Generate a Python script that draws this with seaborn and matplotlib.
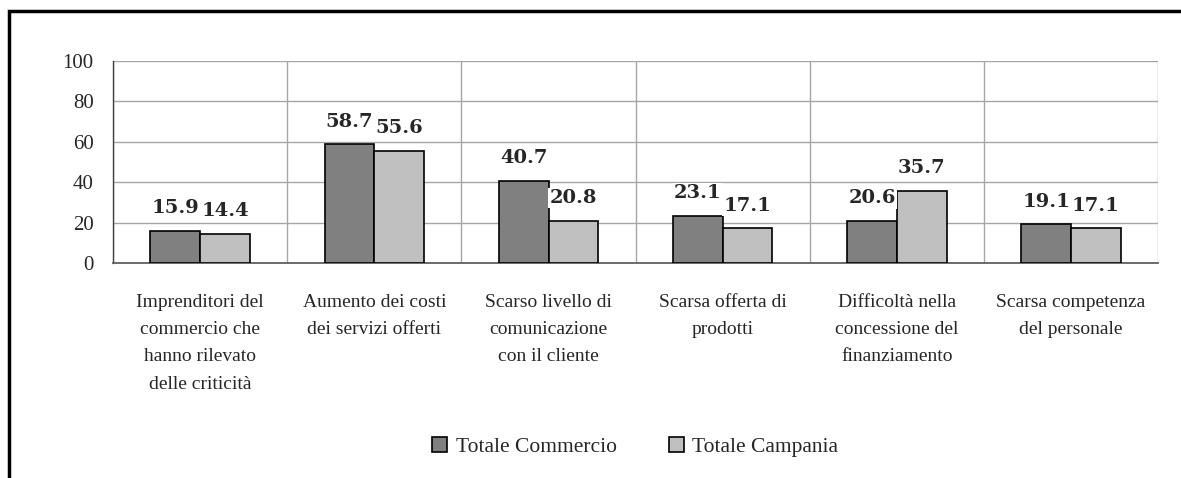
import pandas as pd
import seaborn as sns
import matplotlib.pyplot as plt
from matplotlib.patches import Rectangle
from matplotlib.ticker import FixedLocator

# Categories (x axis) and the two series
categories = [
    'Imprenditori del\ncommercio che\nhanno rilevato\ndelle criticità',
    'Aumento dei costi\ndei servizi offerti',
    'Scarso livello di\ncomunicazione\ncon il cliente',
    'Scarsa offerta di\nprodotti',
    'Difficoltà nella\nconcessione del\nfinanziamento',
    'Scarsa competenza\ndel personale',
]
series = ['Totale Commercio', 'Totale Campania']
commercio = [15.9, 58.7, 40.7, 23.1, 20.6, 19.1]
campania = [14.4, 55.6, 20.8, 17.1, 35.7, 17.1]
y_ticks = [0, 20, 40, 60, 80, 100]

df = pd.DataFrame({
    'categoria': categories * 2,
    'serie': [series[0]] * len(categories) + [series[1]] * len(categories),
    'valore': commercio + campania,
})

sns.set_style('white')
plt.rcParams['font.family'] = ['Liberation Serif', 'DejaVu Serif']

fig = plt.figure(figsize=(11.81, 4.78), dpi=100)
ax = fig.add_axes([0.0957, 0.4498, 0.885, 0.4226])

sns.barplot(data=df, x='categoria', y='valore', hue='serie', order=categories,
            hue_order=series, palette=['#808080', '#c0c0c0'], width=0.57,
            gap=0, edgecolor='black', linewidth=1.2, saturation=1,
            errorbar=None, ax=ax, zorder=3)

ax.set_xlim(-0.5, len(categories) - 0.5)
ax.set_ylim(0, 100)
ax.set_yticks(y_ticks)
ax.set_xlabel('')
ax.set_ylabel('')

# grid: horizontal at y ticks, vertical at category boundaries
ax.xaxis.set_minor_locator(FixedLocator([i - 0.5 for i in range(len(categories) + 1)]))
ax.grid(axis='y', which='major', color='#a6a6a6', linewidth=1.0, zorder=0)
ax.grid(axis='x', which='minor', color='#a6a6a6', linewidth=1.0, zorder=0)
ax.grid(axis='x', which='major', visible=False)
ax.set_axisbelow(True)

for side in ['top', 'right']:
    ax.spines[side].set_visible(False)
ax.spines['left'].set_color('#404040')
ax.spines['bottom'].set_color('#606060')
ax.spines['left'].set_linewidth(1.0)
ax.spines['bottom'].set_linewidth(1.3)

ax.tick_params(axis='x', which='major', length=0, pad=22, labelsize=14)
ax.tick_params(axis='x', which='minor', length=6, direction='out', color='#404040', width=1.0)
ax.tick_params(axis='y', length=6, direction='out', color='#404040', width=1.0, pad=8, labelsize=15)
for lbl in ax.get_xticklabels():
    lbl.set_linespacing(1.8)
    lbl.set_verticalalignment('top')

# value labels above the bars
for container in ax.containers:
    for bar in container:
        h = bar.get_height()
        ax.annotate(f'{h:.1f}', (bar.get_x() + bar.get_width() / 2, h),
                    xytext=(0, 10), textcoords='offset points',
                    ha='center', va='bottom', fontsize=14, fontweight='bold',
                    family=['DejaVu Serif'],
                    bbox=dict(facecolor='white', edgecolor='none', pad=1),
                    zorder=4)

# legend
handles, labels = ax.get_legend_handles_labels()
ax.legend_.remove()
fig.legend(handles, labels, loc='center', bbox_to_anchor=(0.538, 0.065), ncol=2,
           frameon=False, fontsize=15.5, handlelength=0.7, handleheight=0.7,
           handletextpad=0.4, columnspacing=2.4)

# outer frame (cropped at right and bottom)
fig.patches.append(Rectangle((9 / 1181, -0.1), 1.2, 0.1 + 1 - 11 / 478,
                             transform=fig.transFigure, fill=False,
                             edgecolor='black', linewidth=2.5))

fig.savefig('out.png', dpi=100)
